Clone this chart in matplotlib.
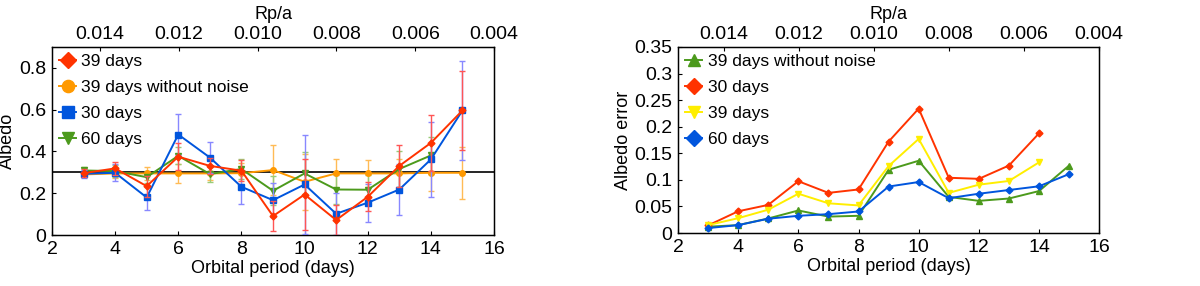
import numpy as np
import matplotlib
matplotlib.use('Agg')
import matplotlib.pyplot as plt

plt.rcParams['font.family'] = ['Liberation Sans', 'DejaVu Sans']
plt.rcParams['font.size'] = 13
plt.rcParams['xtick.labelsize'] = 14
plt.rcParams['ytick.labelsize'] = 14

period = [3, 4, 5, 6, 7, 8, 9, 10, 11, 12, 13, 14, 15]

# left panel: recovered albedo (true value 0.3)
alb_39 = [0.296, 0.319, 0.234, 0.375, 0.331, 0.308, 0.091, 0.194, 0.072, 0.183, 0.331, 0.441, 0.596]
err_39 = [0.02, 0.03, 0.05, 0.065, 0.04, 0.05, 0.07, 0.17, 0.07, 0.07, 0.10, 0.135, 0.19]
alb_nonoise = [0.29, 0.295, 0.295, 0.295, 0.295, 0.296, 0.311, 0.255, 0.295, 0.295, 0.295, 0.298, 0.298]
err_nonoise = [0.01, 0.02, 0.03, 0.045, 0.03, 0.05, 0.12, 0.135, 0.07, 0.065, 0.07, 0.085, 0.125]
alb_30 = [0.293, 0.298, 0.18, 0.481, 0.371, 0.231, 0.167, 0.242, 0.102, 0.155, 0.218, 0.362, 0.596]
err_30 = [0.02, 0.04, 0.06, 0.10, 0.075, 0.08, 0.08, 0.235, 0.10, 0.09, 0.12, 0.18, 0.235]
period_60 = [3, 4, 5, 6, 7, 8, 9, 10, 11, 12, 13, 14]
alb_60 = [0.309, 0.306, 0.277, 0.379, 0.292, 0.316, 0.212, 0.295, 0.218, 0.217, 0.316, 0.381]
err_60 = [0.015, 0.03, 0.03, 0.04, 0.04, 0.05, 0.07, 0.10, 0.07, 0.07, 0.085, 0.09]
true_albedo = 0.3

# right panel: albedo error
period_14 = [3, 4, 5, 6, 7, 8, 9, 10, 11, 12, 13, 14]
aerr_nonoise = [0.012, 0.015, 0.0275, 0.0425, 0.031, 0.0325, 0.119, 0.136, 0.068, 0.0606, 0.065, 0.079, 0.127]
aerr_30 = [0.0144, 0.041, 0.053, 0.0975, 0.0756, 0.082, 0.172, 0.234, 0.104, 0.102, 0.127, 0.1875]
aerr_39 = [0.015, 0.028, 0.044, 0.074, 0.056, 0.052, 0.126, 0.177, 0.0756, 0.091, 0.098, 0.133]
aerr_60 = [0.0094, 0.015, 0.027, 0.0325, 0.0356, 0.0406, 0.0875, 0.096, 0.0656, 0.074, 0.081, 0.088, 0.111]

rpa_ticks = [0.014, 0.012, 0.010, 0.008, 0.006, 0.004]

RED = '#ff3300'
ORANGE = '#ff9900'
BLUE = '#0055dd'
GREEN = '#4c9a1c'
YELLOW = '#ffee00'

fig = plt.figure(figsize=(12, 2.86), dpi=100)
ax1 = fig.add_axes([0.0433, 0.178, 0.3684, 0.658])
ax2 = fig.add_axes([0.565, 0.185, 0.351, 0.651])


def style(ax):
    ax.tick_params(direction='in', length=3, width=0.8, pad=4)
    for s in ax.spines.values():
        s.set_linewidth(1.0)


def top_axis(ax):
    top = ax.twiny()
    top.set_xlim(0.01522, 0.004)
    top.set_xticks(rpa_ticks)
    top.set_xticklabels(['%.3f' % t for t in rpa_ticks])
    top.set_xlabel('Rp/a', labelpad=5)
    top.tick_params(direction='in', length=3, width=0.8, pad=3)
    return top


leg_kw = dict(loc='upper left', frameon=False, handlelength=1.0, handletextpad=0.3,
              markerscale=2.2, labelspacing=0.62, borderaxespad=0.2, borderpad=0.2, fontsize=12.5)

# ---- left
ms = 4
ax1.axhline(true_albedo, color='black', lw=1.2, zorder=1)
eb_nn = ax1.errorbar(period, alb_nonoise, yerr=err_nonoise, color=ORANGE, ecolor='#ffbb55', marker='o', ms=ms,
                     lw=1.4, capsize=2, elinewidth=1, zorder=3)
eb_60 = ax1.errorbar(period_60, alb_60, yerr=err_60, color=GREEN, ecolor='#99cc77', marker='v', ms=ms,
                     lw=1.4, capsize=2, elinewidth=1, zorder=3)
eb_30 = ax1.errorbar(period, alb_30, yerr=err_30, color=BLUE, ecolor='#8888ff', marker='s', ms=ms,
                     lw=1.4, capsize=2, elinewidth=1, zorder=4)
eb_39 = ax1.errorbar(period, alb_39, yerr=err_39, color=RED, ecolor='#ff5555', marker='D', ms=3.5,
                     lw=1.4, capsize=2, elinewidth=1, zorder=5)
ax1.set_xlim(2, 16)
ax1.set_ylim(0, 0.9)
ax1.set_yticks([0, 0.2, 0.4, 0.6, 0.8])
ax1.set_yticklabels(['0', '0.2', '0.4', '0.6', '0.8'])
ax1.set_xticks([2, 4, 6, 8, 10, 12, 14, 16])
ax1.set_xlabel('Orbital period (days)', labelpad=2)
ax1.set_ylabel('Albedo', labelpad=2)
style(ax1)
ax1.legend([eb_39[0], eb_nn[0], eb_30[0], eb_60[0]],
           ['39 days', '39 days without noise', '30 days', '60 days'], **leg_kw)
top_axis(ax1)

# ---- right
ax2.plot(period, aerr_nonoise, color=GREEN, marker='^', ms=ms, lw=1.4, label='39 days without noise')
ax2.plot(period_14, aerr_30, color=RED, marker='D', ms=3.5, lw=1.4, label='30 days')
ax2.plot(period_14, aerr_39, color=YELLOW, marker='v', ms=ms, lw=1.4, label='39 days')
ax2.plot(period, aerr_60, color=BLUE, marker='D', ms=3.5, lw=1.4, label='60 days')
ax2.set_xlim(2, 16)
ax2.set_ylim(0, 0.35)
ax2.set_yticks([0, 0.05, 0.1, 0.15, 0.2, 0.25, 0.3, 0.35])
ax2.set_yticklabels(['0', '0.05', '0.1', '0.15', '0.2', '0.25', '0.3', '0.35'])
ax2.set_xticks([2, 4, 6, 8, 10, 12, 14, 16])
ax2.set_xlabel('Orbital period (days)', labelpad=2)
ax2.set_ylabel('Albedo error', labelpad=2)
style(ax2)
ax2.legend(**leg_kw)
top_axis(ax2)

fig.savefig('out.png', dpi=100)
